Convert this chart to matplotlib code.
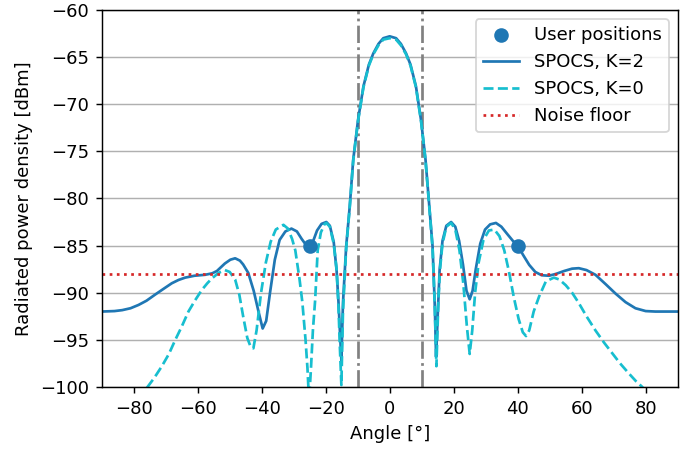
import numpy as np
import matplotlib
matplotlib.use("Agg")
import matplotlib.pyplot as plt

# ---------------- DATA ----------------
# SPOCS, K=2 : angle [deg], radiated power density [dBm]
ANG_K2 = [-90, -86, -83.6, -81, -78.5, -76, -73.3, -70.5, -68.1, -66, -63.9, -61,
          -57.7, -55.5, -54, -51.5, -49.8, -48.3, -46.8, -45.8, -44.2, -42.5, -41,
          -39.7, -38.6, -37.4, -35.9, -34.4, -32.6, -30.7, -29, -27.5, -26, -25, -24,
          -22.7, -21.3, -19.8, -18.7, -17.5, -16.6, -16.0, -15.5, -15.1, -14.6, -13.6,
          -12.5, -11.4, -9.9, -8.2, -6.5, -5.1, -3.5, -2, 0, 2, 3.5, 5.1, 6.5, 8.2,
          9.8, 11.2, 12.4, 13.4, 14.1, 14.5, 15.0, 15.6, 16.5, 17.7, 19.2, 20.5,
          21.7, 22.9, 24.0, 25.0, 25.9, 26.9, 28.3, 29.8, 31.4, 33.2, 34.9, 36.8,
          38.5, 40, 41.7, 43.6, 45.5, 47.5, 49.8, 52, 54.5, 57, 59.1, 61.5, 64.3,
          67.5, 70.6, 73.7, 76.8, 80, 83, 86.5, 90]
PWR_K2 = [-92.0, -91.95, -91.85, -91.65, -91.3, -90.85, -90.2, -89.55, -89.0, -88.65,
          -88.4, -88.2, -88.1, -87.95, -87.7, -86.9, -86.5, -86.35, -86.6, -87.0,
          -87.9, -89.8, -92.0, -93.8, -93.0, -90.0, -86.5, -84.4, -83.5, -83.2,
          -83.5, -84.3, -85.0, -85.1, -84.6, -83.4, -82.7, -82.5, -82.9, -84.6,
          -87.6, -91.0, -94.5, -97.2, -91.1, -85.1, -80.9, -75.9, -71.7, -68.1,
          -65.8, -64.6, -63.6, -63.0, -62.8, -63.0, -63.6, -64.6, -65.8, -68.1,
          -71.7, -75.9, -80.9, -85.1, -91.5, -96.8, -92.5, -87.6, -84.5, -82.9,
          -82.5, -83.0, -84.5, -87.0, -89.8, -90.7, -89.8, -87.5, -84.8, -83.3,
          -82.75, -82.6, -83.0, -83.8, -84.5, -85.0, -86.0, -87.05, -87.8, -88.15,
          -88.2, -88.0, -87.7, -87.45, -87.4, -87.6, -88.1, -89.1, -90.1, -91.0,
          -91.65, -91.95, -92.0, -92.0, -92.0]

# SPOCS, K=0
ANG_K0 = [-90, -84, -80, -75.9, -73.5, -71.2, -69, -67, -65, -62.9, -60.8, -58.7,
          -57, -55.6, -53.5, -51.5, -50, -48.3, -47, -45.8, -44.5, -43.5, -42.6,
          -41.6, -40.2, -38.7, -37.2, -35.6, -33.2, -31.8, -30.5, -29.5, -28.2,
          -27.3, -26.3, -25.7, -25.2, -24.6, -24, -23.3, -22.5, -21.5, -20.3, -19.8,
          -18.7, -17.5, -16.6, -16.0, -15.6, -15.1, -14.6, -13.6, -12.5, -11.4,
          -9.9, -8.2, -6.5, -5.1, -3.5, -2, 0, 2, 3.5, 5.1, 6.5, 8.2, 9.8, 11.2,
          12.4, 13.4, 14.1, 14.6, 15.2, 15.7, 16.5, 17.7, 19.2, 20.5, 21.8, 23,
          24.1, 25.0, 25.8, 26.7, 27.8, 29.3, 31, 32.7, 34.3, 35.8, 37.3, 38.8,
          40.3, 41.6, 42.6, 43.6, 45, 46.7, 48.8, 51.3, 53, 55, 57, 59.1, 61.5,
          64.3, 67, 69.5, 72, 74.7, 77, 78.8, 82, 86, 90]
PWR_K0 = [-106.0, -103.5, -101.6, -100.1, -99.0, -97.8, -96.5, -95.0, -93.6, -92.0,
          -90.8, -89.7, -89.0, -88.5, -87.9, -87.6, -87.8, -88.6, -90.2, -92.5,
          -94.8, -95.7, -95.9, -94.0, -90.0, -86.8, -84.6, -83.3, -82.8, -83.2,
          -84.3, -85.5, -88.5, -91.0, -95.0, -98.0, -101.5, -98.0, -94.0, -90.8,
          -85.5, -83.6, -82.7, -82.6, -83.0, -84.8, -87.5, -91.5, -95.5, -99.8,
          -92.0, -85.3, -81.0, -76.0, -71.8, -68.2, -65.9, -64.7, -63.75, -63.15,
          -63.0, -63.15, -63.75, -64.7, -65.9, -68.2, -71.8, -76.0, -81.0, -85.3,
          -91.5, -97.8, -91.0, -87.6, -84.8, -83.0, -82.6, -83.3, -85.5, -89.0,
          -93.5, -96.5, -94.0, -90.0, -86.8, -84.4, -83.4, -83.3, -84.0, -85.5,
          -87.8, -90.5, -92.8, -94.2, -94.6, -94.0, -92.0, -90.4, -88.8, -88.4,
          -88.6, -89.2, -90.0, -91.1, -92.5, -94.0, -95.3, -96.4, -97.5, -98.55,
          -99.4, -99.96, -101.2, -102.8, -104.5]

USER_ANGLES = [-25, 40]
USER_PWR = [-85.0, -85.0]

NOISE_FLOOR = -88.0
BEAM_EDGES = [-10, 10]
# ----------------------------------------------------------------


def make_plot():
    fig, ax = plt.subplots(figsize=(699 / 130, 451 / 130), dpi=130)

    ax.grid(True, axis='y', color='#b0b0b0', lw=0.8)
    ax.set_axisbelow(True)

    # beam edges
    for xv in BEAM_EDGES:
        ax.axvline(xv, color='gray', ls='-.', lw=1.5)

    h_users = ax.scatter(USER_ANGLES, USER_PWR, s=50, color='tab:blue',
                         zorder=3, label='User positions')
    h_k2, = ax.plot(ANG_K2, PWR_K2, color='tab:blue', lw=1.5, label='SPOCS, K=2')
    h_k0, = ax.plot(ANG_K0, PWR_K0, color='tab:cyan', ls='--', lw=1.5,
                    label='SPOCS, K=0')
    h_nf = ax.axhline(NOISE_FLOOR, color='tab:red', ls=':', lw=1.5,
                      label='Noise floor')

    ax.set_xlim(-90, 90)
    ax.set_ylim(-100, -60)
    ax.set_xticks(np.arange(-80, 81, 20))
    ax.set_yticks(np.arange(-100, -59, 5))
    ax.set_xlabel('Angle [°]')
    ax.set_ylabel('Radiated power density [dBm]')

    ax.legend(handles=[h_users, h_k2, h_k0, h_nf], loc='upper right')

    fig.subplots_adjust(left=0.1455, right=0.9695, top=0.978, bottom=0.142)
    fig.savefig('out.png', dpi=130)


if __name__ == '__main__':
    make_plot()
